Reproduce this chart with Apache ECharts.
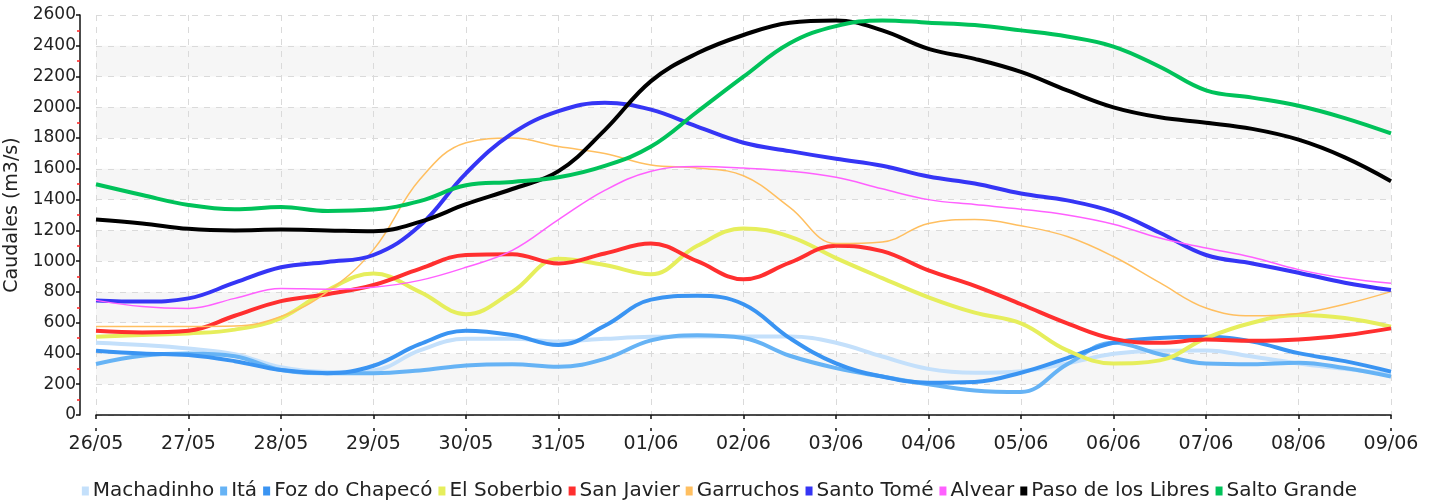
<!DOCTYPE html>
<html>
<head>
<meta charset="utf-8">
<script src="https://cdn.jsdelivr.net/npm/echarts@6/dist/echarts.min.js"></script>
<style>
html,body{margin:0;padding:0;background:#fff;}
#chart{width:1439px;height:502px;}
</style>
</head>
<body>
<div id="chart"></div>
<script>
// Day tick labels
const dayLabels = ['26/05','27/05','28/05','29/05','30/05','31/05','01/06','02/06','03/06','04/06','05/06','06/06','07/06','08/06','09/06'];
// Yaxis ticks
const yTicks = [0,200,400,600,800,1000,1200,1400,1600,1800,2000,2200,2400,2600];

// Series values, one every 12 hours from 26/05 00h to 09/06 00h (29 points)
const machadinho = [470,455,432,395,310,280,290,420,495,495,478,495,508,510,510,510,470,380,300,275,285,335,398,418,420,380,335,300,265];
const ita = [332,385,400,382,292,272,272,290,322,330,314,365,485,518,500,385,305,250,200,160,150,330,470,395,335,330,340,305,250];
const fozDoChapeco = [418,400,390,350,292,272,320,460,548,520,455,580,750,775,720,500,335,250,210,215,275,370,470,500,508,477,402,350,282];
const elSoberbio = [509,520,530,555,630,810,920,800,655,800,1015,975,915,1100,1213,1160,1020,890,765,665,595,420,335,355,500,600,650,630,574];
const sanJavier = [548,537,548,645,740,785,845,950,1040,1045,985,1050,1115,1000,882,990,1100,1065,940,840,720,596,495,470,490,482,490,518,563];
const garruchos = [575,575,575,578,640,800,1075,1530,1770,1800,1745,1700,1625,1605,1555,1350,1115,1125,1245,1270,1230,1160,1030,860,695,645,660,720,802];
const santoTome = [745,737,758,860,960,995,1040,1230,1571,1830,1975,2030,1985,1875,1770,1715,1665,1620,1550,1505,1440,1395,1320,1185,1040,985,925,860,812];
const alvear = [745,705,693,758,823,818,830,875,960,1070,1270,1460,1585,1615,1605,1585,1545,1470,1400,1368,1338,1300,1240,1150,1085,1025,945,890,856];
const pasoDeLosLibres = [1270,1245,1210,1200,1205,1200,1195,1255,1370,1469,1585,1852,2170,2351,2470,2550,2565,2500,2380,2315,2230,2110,2000,1935,1900,1860,1790,1675,1520];
const saltoGrande = [1500,1430,1365,1337,1352,1326,1335,1390,1493,1515,1545,1619,1745,1971,2199,2416,2528,2565,2550,2535,2500,2460,2395,2264,2110,2063,2010,1930,1830];

const seriesNames = ['Machadinho','Itá','Foz do Chapecó','El Soberbio','San Javier','Garruchos','Santo Tomé','Alvear','Paso de los Libres','Salto Grande'];
const seriesData = [machadinho, ita, fozDoChapeco, elSoberbio, sanJavier, garruchos, santoTome, alvear, pasoDeLosLibres, saltoGrande];
const seriesColors = ['#c4e0fb','#66b3f5','#3a94f2','#e6ee5c','#ff2f2f','#ffbf60','#3535f5','#ff60ff','#000000','#00c25a'];
const seriesWidths = [4,4,4,4,4,1.5,4,1.5,4,4];

// categories: every 12 hours
const categories = [];
dayLabels.forEach((d, i) => {
  categories.push(d);
  if (i < dayLabels.length - 1) categories.push(d + ' 12:00');
});

const FONT = 'DejaVu Sans';
const chart = echarts.init(document.getElementById('chart'), null, {renderer: 'canvas'});
const option = {
  animation: false,
  backgroundColor: '#fff',
  textStyle: {fontFamily: FONT},
  grid: {left: 96, right: 48, top: 15, bottom: 87, containLabel: false, outerBoundsMode: 'none'},
  legend: {
    data: seriesNames,
    top: 476,
    left: 'center',
    icon: 'rect',
    itemWidth: 7,
    itemHeight: 9,
    itemGap: 6,
    textStyle: {fontFamily: FONT, fontSize: 20, color: '#222', padding: [0,0,0,-1]},
  },
  xAxis: [{
    type: 'category',
    data: categories,
    boundaryGap: false,
    offset: 16,
    axisLine: {lineStyle: {color: '#111', width: 1.5}},
    axisTick: {interval: 1, length: 4, lineStyle: {color: '#111', width: 1.5}},
    axisLabel: {interval: 1, fontFamily: FONT, fontSize: 19, color: '#222', margin: 4},
    splitLine: {show: true, interval: 1, lineStyle: {color: '#dadada', type: [6,6], width: 1}},
  }, {
    type: 'category',
    data: categories,
    boundaryGap: false,
    position: 'bottom',
    offset: 16,
    axisLine: {show: false},
    axisTick: {interval: 1, inside: true, length: 3, lineStyle: {color: '#111', width: 1.5}},
    axisLabel: {show: false},
    splitLine: {show: false},
  }],
  yAxis: {
    type: 'value',
    min: 0,
    max: 2600,
    interval: 200,
    offset: 16,
    name: 'Caudales (m3/s)',
    nameLocation: 'middle',
    nameGap: 54,
    nameTextStyle: {fontFamily: FONT, fontSize: 19, color: '#222'},
    axisLine: {show: true, lineStyle: {color: '#111', width: 1.5}},
    axisTick: {show: true, length: 4, lineStyle: {color: '#111', width: 1.5}},
    minorTick: {show: true, splitNumber: 2, length: 3, lineStyle: {color: '#ff2020', width: 1.5}},
    axisLabel: {fontFamily: FONT, fontSize: 17, color: '#222', margin: 4,
      formatter: v => yTicks.includes(v) ? String(v) : ''},
    splitLine: {show: true, lineStyle: {color: '#dadada', type: [6,6], width: 1}},
    splitArea: {show: true, areaStyle: {color: ['rgba(255,255,255,0)', '#f6f6f6']}},
  },
  series: seriesNames.map((name, i) => ({
    name: name,
    type: 'line',
    data: seriesData[i],
    smooth: 0.4,
    showSymbol: false,
    symbol: 'rect',
    color: seriesColors[i],
    lineStyle: {color: seriesColors[i], width: seriesWidths[i]},
    emphasis: {disabled: true},
  })),
};
chart.setOption(option);
</script>
</body>
</html>
